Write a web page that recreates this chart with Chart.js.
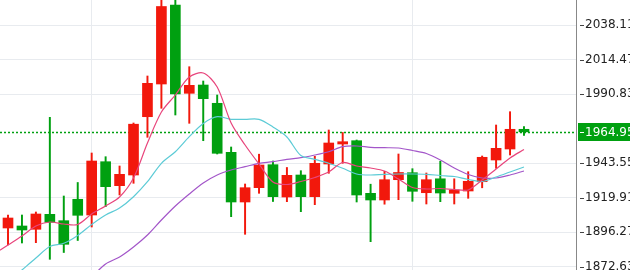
<!DOCTYPE html>
<html>
<head>
<meta charset="utf-8">
<script src="https://cdn.jsdelivr.net/npm/chart.js@4.4.0/dist/chart.umd.min.js"></script>
<style>
  html, body { margin: 0; padding: 0; background: #fff; overflow: hidden; }
  #wrap { width: 630px; height: 270px; overflow: hidden; }
</style>
</head>
<body>
<div id="wrap"><canvas id="grafica" width="660" height="270"></canvas></div>
<script>
// velas (OHLC)
const opens  = [1899.14,1900.51,1898.25,1908.51,1904.14,1918.79,1908.03,1944.52,1928.10,1935.42,1975.33,1997.72,2051.80,1991.35,1997.03,1984.51,1950.96,1916.94,1926.73,1942.48,1920.36,1935.42,1920.57,1942.95,1956.64,1958.90,1922.89,1918.31,1932.20,1936.99,1923.30,1932.82,1922.89,1924.47,1930.83,1945.69,1953.22,1966.71];
const highs  = [1908.03,1908.03,1910.09,1974.92,1921.04,1930.29,1950.48,1947.95,1941.58,1971.02,2003.20,2059.33,2059.33,2009.56,1999.77,1990.19,1954.59,1929.26,1949.66,1945.00,1940.56,1938.37,1948.22,1966.23,1964.52,1959.38,1929.12,1937.95,1949.80,1939.74,1936.79,1944.80,1932.82,1937.68,1948.43,1969.65,1978.76,1968.49];
const lows   = [1887.50,1888.87,1889.07,1877.71,1882.36,1890.58,1899.82,1913.72,1921.73,1929.74,1961.23,1981.09,1976.50,1970.81,1958.90,1949.80,1906.87,1894.82,1922.89,1917.28,1917.14,1910.30,1915.09,1936.59,1943.43,1916.94,1889.76,1915.43,1918.51,1917.42,1915.57,1917.14,1915.57,1919.47,1926.66,1940.01,1949.11,1962.46];
const closes = [1905.98,1897.77,1908.72,1903.04,1887.98,1907.83,1945.00,1927.41,1935.90,1970.20,1998.20,2050.78,1990.87,1996.83,1987.66,1950.28,1916.94,1926.73,1942.27,1920.57,1935.21,1920.57,1943.43,1957.33,1958.22,1921.73,1918.31,1932.20,1937.13,1924.26,1932.20,1923.10,1925.15,1931.11,1947.54,1953.70,1966.71,1964.95];

// medias moviles (primer indice de cada una)
const maFast = [1881.34,1887.50,1893.66,1900.51,1903.24,1901.87,1901.53,1908.72,1914.20,1920.36,1933.37,1957.33,1978.55,1990.19,2002.51,2005.25,1995.67,1971.02,1955.96,1942.95,1930.63,1928.92,1930.97,1933.71,1937.47,1943.98,1941.58,1940.22,1938.16,1932.68,1926.86,1925.84,1926.18,1925.49,1925.15,1932.00,1939.53,1947.06,1952.88];
const maFastStart = -1;
const maMid = [1862.17,1870.38,1878.60,1886.47,1888.66,1894.00,1901.53,1908.03,1912.83,1920.57,1930.83,1943.43,1951.37,1961.64,1970.68,1975.33,1973.55,1973.55,1973.55,1968.28,1961.44,1948.77,1946.17,1943.43,1940.01,1936.11,1935.42,1935.90,1936.11,1936.11,1935.90,1935.08,1934.40,1932.34,1930.97,1934.05,1937.47,1940.90];
const maMidStart = 0;
const maSlow = [1865.59,1874.49,1879.28,1886.13,1894.35,1904.61,1914.20,1922.41,1929.94,1935.42,1938.84,1941.10,1943.43,1944.52,1946.17,1947.26,1949.11,1951.37,1954.80,1955.27,1954.38,1954.11,1953.91,1952.19,1950.14,1945.69,1940.22,1935.76,1933.37,1933.37,1935.42,1938.16];
const maSlowStart = 6;

// eje de precios
const yTicks = [1872.63, 1896.27, 1919.91, 1943.55, 1990.83, 2014.47, 2038.11];
const yMin = 1870.38, yMax = 2055.23;
const xMin = -0.574, xMax = 40.73;
const xGrid = [6, 29];

const ROJO = '#f2180c';
const VERDE = '#00a010';

const lastPrice = closes[closes.length - 1];
const colores = closes.map((c, i) => c >= opens[i] ? ROJO : VERDE);

function puntos(vals, start) {
    return vals.map((v, i) => ({ x: start + i, y: v }));
}

const cuerpos = {
    type: 'bar',
    data: opens.map((o, i) => ({ x: i, y: [o, closes[i]] })),
    backgroundColor: colores,
    barThickness: 10,
    grouped: false,
    order: 1
};
const mechas = {
    type: 'bar',
    data: lows.map((l, i) => ({ x: i, y: [l, highs[i]] })),
    backgroundColor: colores,
    barThickness: 1.3,
    grouped: false,
    order: 2
};

function linea(vals, start, color) {
    return {
        type: 'line',
        data: puntos(vals, start),
        borderColor: color,
        borderWidth: 1.2,
        pointRadius: 0,
        tension: 0.3,
        fill: false,
        order: 0
    };
}

const precioActual = {
    id: 'precioActual',
    beforeDatasetsDraw(chart) {
        const ctx = chart.ctx;
        const y = Math.round(chart.scales.y.getPixelForValue(lastPrice)) + 0.5;
        ctx.save();
        ctx.strokeStyle = VERDE;
        ctx.lineWidth = 1.5;
        ctx.setLineDash([2, 2]);
        ctx.beginPath();
        ctx.moveTo(chart.chartArea.left, y);
        ctx.lineTo(chart.chartArea.right, y);
        ctx.stroke();
        ctx.restore();
    },
    afterDraw(chart) {
        const ctx = chart.ctx;
        const sy = chart.scales.y;
        ctx.save();
        ctx.strokeStyle = '#444';
        ctx.lineWidth = 1;
        yTicks.forEach(v => {
            const ty = Math.round(sy.getPixelForValue(v)) + 0.5;
            ctx.beginPath();
            ctx.moveTo(580, ty);
            ctx.lineTo(584, ty);
            ctx.stroke();
        });
        const y = sy.getPixelForValue(lastPrice);
        ctx.fillStyle = VERDE;
        ctx.fillRect(578, Math.round(y) - 9, 90, 18);
        ctx.strokeStyle = '#fff';
        ctx.beginPath();
        ctx.moveTo(580, Math.round(y) + 0.5);
        ctx.lineTo(584, Math.round(y) + 0.5);
        ctx.stroke();
        ctx.fillStyle = '#fff';
        ctx.font = '12px "DejaVu Sans"';
        ctx.textBaseline = 'middle';
        ctx.textAlign = 'left';
        ctx.fillText(lastPrice.toFixed(2), 585, Math.round(y) + 1);
        ctx.restore();
    }
};

new Chart(document.getElementById('grafica'), {
    data: {
        datasets: [
            linea(maFast, maFastStart, '#e8457c'),
            linea(maMid, maMidStart, '#5ccbd6'),
            linea(maSlow, maSlowStart, '#a356c9'),
            cuerpos,
            mechas
        ]
    },
    options: {
        responsive: false,
        animation: false,
        layout: { padding: 0 },
        plugins: { legend: { display: false }, tooltip: { enabled: false } },
        scales: {
            x: {
                type: 'linear',
                min: xMin,
                max: xMax,
                offset: false,
                afterBuildTicks: s => { s.ticks = xGrid.map(v => ({ value: v })); },
                afterFit: s => { s.height = 0; s.paddingLeft = 0; s.paddingRight = 0; },
                ticks: { display: false },
                grid: { color: '#e8ebef', drawTicks: false, offset: false },
                border: { display: false }
            },
            y: {
                type: 'linear',
                position: 'right',
                min: yMin,
                max: yMax,
                beginAtZero: false,
                afterBuildTicks: s => { s.ticks = yTicks.map(v => ({ value: v })); },
                afterFit: s => { s.width = 84; s.paddingTop = 0; s.paddingBottom = 0; },
                ticks: {
                    callback: v => Number(v).toFixed(2),
                    font: { family: 'DejaVu Sans', size: 12 },
                    color: '#222',
                    padding: 9
                },
                grid: { color: '#e8ebef', drawTicks: false },
                border: { display: true, color: '#888' }
            }
        }
    },
    plugins: [precioActual]
});
</script>
</body>
</html>
